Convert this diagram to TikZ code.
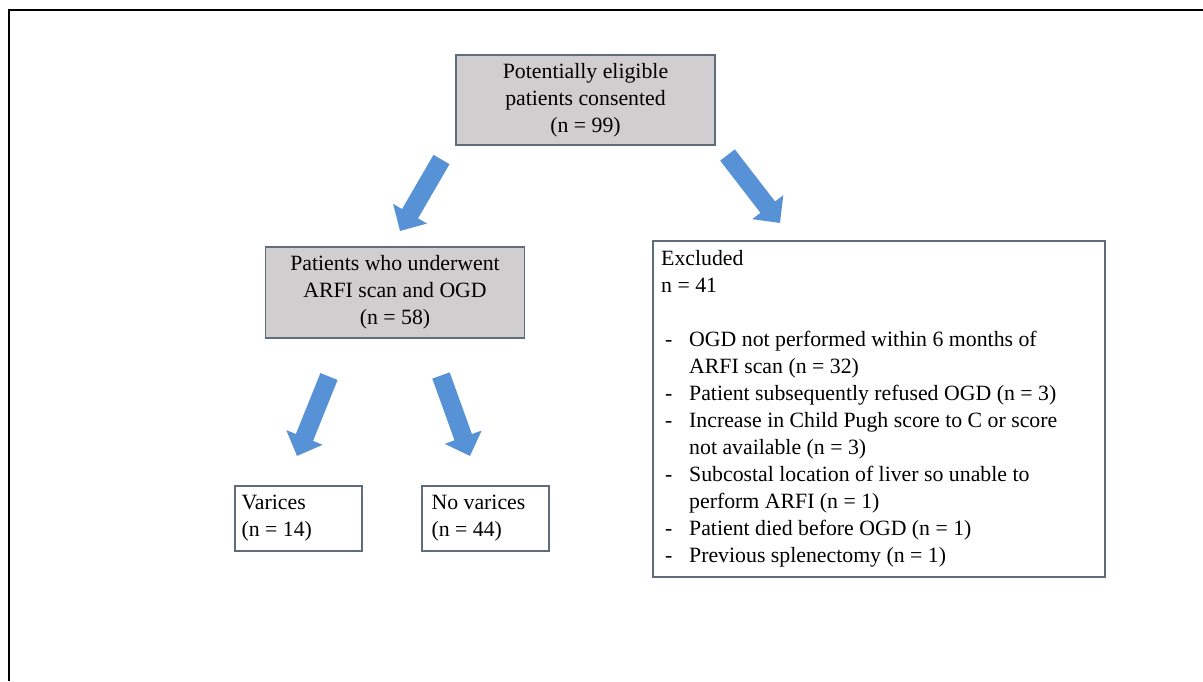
\documentclass[tikz,border=0pt]{standalone}
\usepackage{fontspec}
\setmainfont{Liberation Serif}
\usetikzlibrary{arrows.meta}
\definecolor{boxgray}{RGB}{208,206,206}
\definecolor{boxline}{RGB}{95,108,122}
\definecolor{arrowblue}{RGB}{86,146,213}
\begin{document}
\begin{tikzpicture}[x=1pt,y=-1pt,
  txt/.style={font=\fontsize{21.8}{27}\selectfont, inner sep=0pt},
  graybox/.style={draw=boxline, line width=1.3pt, fill=boxgray, txt, align=center},
  whitebox/.style={draw=boxline, line width=1.3pt, fill=white},
  bluearrow/.style={draw=arrowblue, line width=18.5pt, -{Triangle[width=38pt,length=20pt]}}]
\useasboundingbox (0,0) rectangle (1203,681);
\fill[white] (0,0) rectangle (1203,681);
\draw[line width=2pt] (9,681) -- (9,10) -- (1203,10);

% boxes
\node[graybox, minimum width=259pt, minimum height=90pt] (top) at (585.5,100)
  {Potentially eligible\\patients consented\\(n = 99)};
\node[graybox, minimum width=259pt, minimum height=91pt] (mid) at (395,292.5)
  {Patients who underwent\\ARFI scan and OGD\\(n = 58)};
\node[whitebox, minimum width=452pt, minimum height=336pt] (exc) at (879,409) {};
\node[txt, anchor=north west, align=left] (exctext) at (661,250)
  {Excluded\\
   n = 41\\[27pt]
   \hspace{4pt}\makebox[24pt][l]{-}OGD not performed within 6 months of\\
   \hspace{28pt}ARFI scan (n = 32)\\
   \hspace{4pt}\makebox[24pt][l]{-}Patient subsequently refused OGD (n = 3)\\
   \hspace{4pt}\makebox[24pt][l]{-}Increase in Child Pugh score to C or score\\
   \hspace{28pt}not available (n = 3)\\
   \hspace{4pt}\makebox[24pt][l]{-}Subcostal location of liver so unable to\\
   \hspace{28pt}perform ARFI (n = 1)\\
   \hspace{4pt}\makebox[24pt][l]{-}Patient died before OGD (n = 1)\\
   \hspace{4pt}\makebox[24pt][l]{-}Previous splenectomy (n = 1)};
\node[whitebox, minimum width=127pt, minimum height=65pt] (var) at (298.5,518.5) {};
\node[txt, anchor=west, align=left] (vartext) at (var.west) [xshift=7pt] {Varices\\(n = 14)};
\node[whitebox, minimum width=127pt, minimum height=65pt] (novar) at (485.5,518.5) {};
\node[txt, anchor=west, align=left] (novartext) at (novar.west) [xshift=10pt] {No varices\\(n = 44)};

% arrows
\coordinate (t1) at (441.5,159.5); \coordinate (h1) at (400,231);
\coordinate (t2) at (727.5,155); \coordinate (h2) at (780,223);
\coordinate (t3) at (329,376.5); \coordinate (h3) at (297,456);
\coordinate (t4) at (441,375.5); \coordinate (h4) at (470,456);
\draw[bluearrow] (t1) -- (h1);
\draw[bluearrow] (t2) -- (h2);
\draw[bluearrow] (t3) -- (h3);
\draw[bluearrow] (t4) -- (h4);
\end{tikzpicture}
\end{document}
